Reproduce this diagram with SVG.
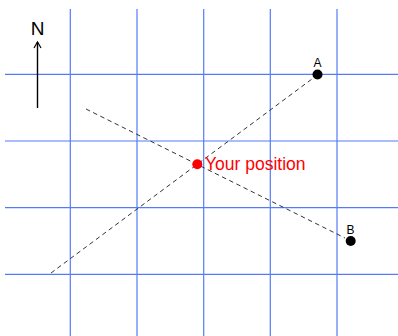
<svg xmlns="http://www.w3.org/2000/svg" width="398" height="336" viewBox="0 0 398 336">
<defs>
<style>
.grid{stroke:#557bf7;stroke-width:1.2;fill:none}
.dash{stroke:#333;stroke-width:1;stroke-dasharray:4.5,3.5;fill:none}
.lbl{font-family:"Liberation Sans",Arial,sans-serif;font-size:12px;fill:#000;text-anchor:middle}
</style>
<marker id="ah" markerWidth="10" markerHeight="10" refX="8" refY="5" orient="auto" markerUnits="userSpaceOnUse">
<path d="M2,1.5 L8,5 L2,8.5" fill="none" stroke="#000" stroke-width="1.2"/>
</marker>
</defs>
<rect width="398" height="336" fill="#fff"/>
<g id="grid">
<line class="grid" x1="70.3" y1="9" x2="70.3" y2="336"/>
<line class="grid" x1="137" y1="9" x2="137" y2="336"/>
<line class="grid" x1="203.7" y1="9" x2="203.7" y2="336"/>
<line class="grid" x1="270.3" y1="9" x2="270.3" y2="336"/>
<line class="grid" x1="337" y1="9" x2="337" y2="336"/>
<line class="grid" x1="5" y1="74.3" x2="398" y2="74.3"/>
<line class="grid" x1="5" y1="141" x2="398" y2="141"/>
<line class="grid" x1="5" y1="207.7" x2="398" y2="207.7"/>
<line class="grid" x1="5" y1="274.3" x2="398" y2="274.3"/>
</g>
<g id="north">
<line x1="37.5" y1="108" x2="37.5" y2="42" stroke="#000" stroke-width="1.4" marker-end="url(#ah)"/>
<text x="37.5" y="35" font-family="Liberation Sans, Arial, sans-serif" font-size="19" text-anchor="middle" fill="#000">N</text>
</g>
<g id="connectors">
<line class="dash" x1="51" y1="273" x2="314" y2="77.5"/>
<line class="dash" x1="86" y1="109" x2="345" y2="238"/>
</g>
<g id="pointA">
<circle cx="317.5" cy="74.5" r="5" fill="#000"/>
<text class="lbl" x="317.5" y="67">A</text>
</g>
<g id="pointB">
<circle cx="350.7" cy="241" r="5" fill="#000"/>
<text class="lbl" x="350.5" y="234">B</text>
</g>
<g id="position">
<circle cx="197.3" cy="164.3" r="5" fill="#f00"/>
<text x="205" y="170" font-family="Liberation Sans, Arial, sans-serif" font-size="17.5" fill="#f00">Your position</text>
</g>
</svg>
